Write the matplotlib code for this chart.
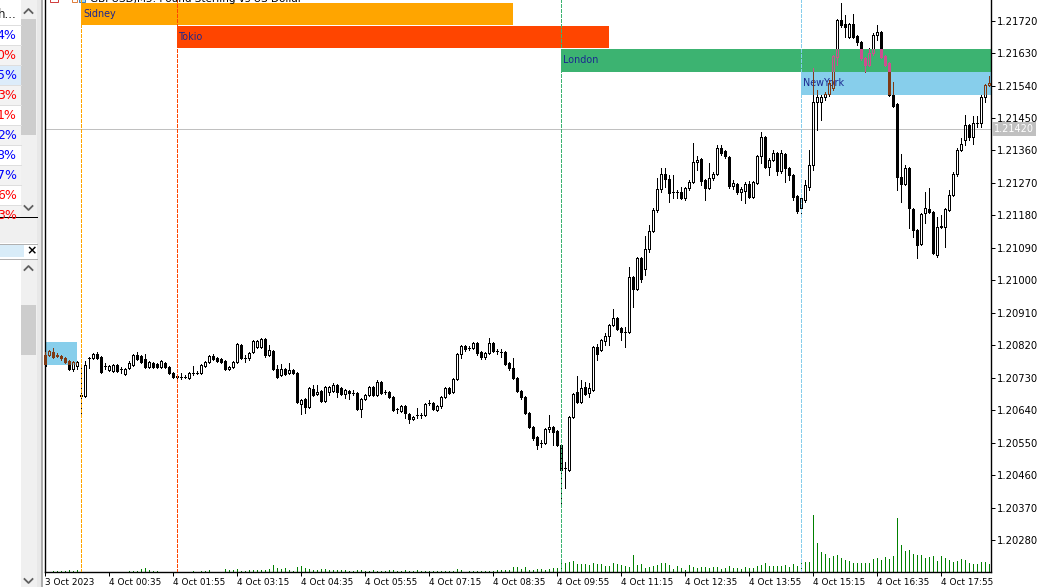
import numpy as np
import pandas as pd
import matplotlib
matplotlib.use('Agg')
import matplotlib.pyplot as plt
from matplotlib.collections import LineCollection, PolyCollection
from matplotlib.patches import Rectangle

# GBPUSD M5, 3 Oct 2023 23:15 .. 4 Oct 2023 18:55 (prices)
open_ = [
    1.20793, 1.20793, 1.20801, 1.20793, 1.20790, 1.20785, 1.20777, 1.20755, 1.20763, 1.20683,
    1.20680, 1.20785, 1.20785, 1.20796, 1.20788, 1.20763, 1.20752, 1.20749, 1.20766, 1.20755,
    1.20741, 1.20758, 1.20766, 1.20793, 1.20790, 1.20782, 1.20760, 1.20771, 1.20769, 1.20760,
    1.20771, 1.20760, 1.20744, 1.20735, 1.20733, 1.20733, 1.20730, 1.20744, 1.20744, 1.20744,
    1.20763, 1.20774, 1.20790, 1.20785, 1.20782, 1.20777, 1.20755, 1.20760, 1.20774, 1.20821,
    1.20785, 1.20785, 1.20801, 1.20816, 1.20816, 1.20838, 1.20793, 1.20804, 1.20755, 1.20738,
    1.20755, 1.20744, 1.20752, 1.20744, 1.20658, 1.20672, 1.20649, 1.20699, 1.20686, 1.20694,
    1.20666, 1.20691, 1.20694, 1.20710, 1.20702, 1.20686, 1.20694, 1.20688, 1.20688, 1.20644,
    1.20672, 1.20683, 1.20705, 1.20683, 1.20718, 1.20691, 1.20691, 1.20677, 1.20644, 1.20638,
    1.20652, 1.20630, 1.20616, 1.20627, 1.20627, 1.20627, 1.20661, 1.20661, 1.20641, 1.20652,
    1.20677, 1.20702, 1.20691, 1.20727, 1.20796, 1.20818, 1.20813, 1.20813, 1.20827, 1.20801,
    1.20788, 1.20799, 1.20827, 1.20804, 1.20801, 1.20801, 1.20771, 1.20758, 1.20730, 1.20694,
    1.20677, 1.20633, 1.20594, 1.20566, 1.20550, 1.20550, 1.20588, 1.20594, 1.20583, 1.20544,
    1.20480, 1.20475, 1.20622, 1.20691, 1.20663, 1.20705, 1.20688, 1.20697, 1.20816, 1.20807,
    1.20832, 1.20846, 1.20876, 1.20896, 1.20868, 1.20857, 1.20857, 1.21010, 1.20976, 1.21062,
    1.21032, 1.21087, 1.21137, 1.21195, 1.21253, 1.21295, 1.21281, 1.21245, 1.21245, 1.21245,
    1.21229, 1.21256, 1.21272, 1.21328, 1.21337, 1.21278, 1.21256, 1.21284, 1.21295, 1.21367,
    1.21359, 1.21342, 1.21261, 1.21267, 1.21245, 1.21248, 1.21267, 1.21231, 1.21270, 1.21345,
    1.21397, 1.21314, 1.21334, 1.21353, 1.21303, 1.21350, 1.21312, 1.21292, 1.21234, 1.21201,
    1.21223, 1.21259, 1.21320, 1.21494, 1.21494, 1.21508, 1.21517, 1.21533, 1.21619, 1.21721,
    1.21710, 1.21675, 1.21710, 1.21677, 1.21661, 1.21616, 1.21597, 1.21630, 1.21680, 1.21688,
    1.21622, 1.21602, 1.21514, 1.21489, 1.21287, 1.21267, 1.21312, 1.21198, 1.21140, 1.21101,
    1.21187, 1.21198, 1.21189, 1.21070, 1.21148, 1.21148, 1.21195, 1.21237, 1.21295, 1.21361,
    1.21389, 1.21431, 1.21397, 1.21436, 1.21436, 1.21508, 1.21542,
]
high = [
    1.20801, 1.20807, 1.20813, 1.20799, 1.20793, 1.20788, 1.20780, 1.20777, 1.20777, 1.20758,
    1.20777, 1.20788, 1.20799, 1.20801, 1.20790, 1.20771, 1.20766, 1.20769, 1.20769, 1.20760,
    1.20758, 1.20777, 1.20796, 1.20801, 1.20793, 1.20796, 1.20777, 1.20774, 1.20771, 1.20780,
    1.20774, 1.20763, 1.20746, 1.20741, 1.20744, 1.20738, 1.20746, 1.20763, 1.20749, 1.20769,
    1.20777, 1.20793, 1.20796, 1.20788, 1.20785, 1.20780, 1.20763, 1.20777, 1.20827, 1.20824,
    1.20793, 1.20801, 1.20835, 1.20835, 1.20841, 1.20841, 1.20821, 1.20807, 1.20766, 1.20769,
    1.20758, 1.20771, 1.20755, 1.20746, 1.20672, 1.20675, 1.20705, 1.20710, 1.20710, 1.20697,
    1.20707, 1.20707, 1.20716, 1.20713, 1.20705, 1.20699, 1.20697, 1.20697, 1.20691, 1.20675,
    1.20686, 1.20707, 1.20707, 1.20724, 1.20721, 1.20697, 1.20694, 1.20680, 1.20647, 1.20655,
    1.20655, 1.20633, 1.20624, 1.20647, 1.20633, 1.20661, 1.20669, 1.20663, 1.20655, 1.20680,
    1.20705, 1.20705, 1.20730, 1.20799, 1.20821, 1.20821, 1.20818, 1.20829, 1.20829, 1.20804,
    1.20801, 1.20841, 1.20829, 1.20810, 1.20810, 1.20804, 1.20774, 1.20785, 1.20733, 1.20697,
    1.20680, 1.20635, 1.20597, 1.20569, 1.20558, 1.20591, 1.20627, 1.20597, 1.20586, 1.20547,
    1.20497, 1.20624, 1.20688, 1.20735, 1.20724, 1.20718, 1.20716, 1.20818, 1.20824, 1.20838,
    1.20855, 1.20879, 1.20921, 1.20899, 1.20871, 1.20871, 1.21037, 1.21012, 1.21065, 1.21065,
    1.21123, 1.21153, 1.21201, 1.21284, 1.21312, 1.21312, 1.21292, 1.21292, 1.21251, 1.21259,
    1.21259, 1.21278, 1.21381, 1.21345, 1.21339, 1.21281, 1.21325, 1.21300, 1.21375, 1.21375,
    1.21361, 1.21345, 1.21278, 1.21270, 1.21259, 1.21272, 1.21275, 1.21275, 1.21348, 1.21411,
    1.21400, 1.21339, 1.21361, 1.21356, 1.21361, 1.21353, 1.21314, 1.21295, 1.21237, 1.21237,
    1.21278, 1.21361, 1.21589, 1.21528, 1.21514, 1.21522, 1.21555, 1.21625, 1.21724, 1.21769,
    1.21735, 1.21713, 1.21738, 1.21680, 1.21663, 1.21619, 1.21644, 1.21686, 1.21708, 1.21691,
    1.21625, 1.21605, 1.21550, 1.21492, 1.21350, 1.21320, 1.21314, 1.21201, 1.21142, 1.21187,
    1.21245, 1.21256, 1.21192, 1.21176, 1.21181, 1.21201, 1.21251, 1.21300, 1.21367, 1.21395,
    1.21458, 1.21433, 1.21456, 1.21456, 1.21514, 1.21544, 1.21566,
]
low = [
    1.20758, 1.20790, 1.20785, 1.20788, 1.20780, 1.20771, 1.20752, 1.20749, 1.20755, 1.20627,
    1.20677, 1.20758, 1.20782, 1.20782, 1.20744, 1.20755, 1.20749, 1.20746, 1.20746, 1.20744,
    1.20738, 1.20755, 1.20763, 1.20780, 1.20771, 1.20758, 1.20758, 1.20758, 1.20758, 1.20758,
    1.20758, 1.20741, 1.20730, 1.20730, 1.20727, 1.20730, 1.20727, 1.20738, 1.20741, 1.20741,
    1.20760, 1.20771, 1.20780, 1.20774, 1.20771, 1.20752, 1.20752, 1.20758, 1.20771, 1.20782,
    1.20774, 1.20780, 1.20799, 1.20813, 1.20813, 1.20788, 1.20790, 1.20752, 1.20730, 1.20735,
    1.20738, 1.20741, 1.20741, 1.20661, 1.20630, 1.20633, 1.20647, 1.20680, 1.20683, 1.20663,
    1.20663, 1.20683, 1.20691, 1.20677, 1.20683, 1.20675, 1.20672, 1.20683, 1.20641, 1.20622,
    1.20669, 1.20680, 1.20680, 1.20680, 1.20686, 1.20686, 1.20675, 1.20638, 1.20633, 1.20635,
    1.20619, 1.20605, 1.20613, 1.20619, 1.20619, 1.20624, 1.20655, 1.20641, 1.20638, 1.20647,
    1.20675, 1.20686, 1.20688, 1.20724, 1.20785, 1.20804, 1.20807, 1.20810, 1.20793, 1.20782,
    1.20782, 1.20796, 1.20801, 1.20796, 1.20788, 1.20766, 1.20752, 1.20727, 1.20691, 1.20672,
    1.20630, 1.20591, 1.20558, 1.20533, 1.20538, 1.20547, 1.20580, 1.20544, 1.20541, 1.20383,
    1.20425, 1.20472, 1.20619, 1.20661, 1.20661, 1.20683, 1.20677, 1.20694, 1.20780, 1.20804,
    1.20821, 1.20821, 1.20874, 1.20863, 1.20835, 1.20816, 1.20855, 1.20927, 1.20974, 1.20996,
    1.21015, 1.21079, 1.21134, 1.21189, 1.21245, 1.21259, 1.21217, 1.21229, 1.21229, 1.21226,
    1.21223, 1.21251, 1.21270, 1.21306, 1.21264, 1.21223, 1.21253, 1.21278, 1.21292, 1.21348,
    1.21339, 1.21256, 1.21253, 1.21240, 1.21223, 1.21215, 1.21229, 1.21229, 1.21267, 1.21325,
    1.21312, 1.21292, 1.21331, 1.21292, 1.21298, 1.21272, 1.21278, 1.21223, 1.21187, 1.21181,
    1.21217, 1.21251, 1.21306, 1.21417, 1.21444, 1.21500, 1.21511, 1.21528, 1.21597, 1.21702,
    1.21675, 1.21672, 1.21672, 1.21652, 1.21611, 1.21578, 1.21594, 1.21625, 1.21666, 1.21616,
    1.21594, 1.21511, 1.21481, 1.21251, 1.21217, 1.21264, 1.21145, 1.21120, 1.21062, 1.21098,
    1.21159, 1.21187, 1.21073, 1.21065, 1.21145, 1.21093, 1.21192, 1.21234, 1.21289, 1.21359,
    1.21375, 1.21389, 1.21378, 1.21425, 1.21425, 1.21494, 1.21539,
]
close = [
    1.20763, 1.20804, 1.20788, 1.20790, 1.20785, 1.20774, 1.20755, 1.20774, 1.20774, 1.20680,
    1.20766, 1.20785, 1.20796, 1.20785, 1.20746, 1.20763, 1.20763, 1.20766, 1.20749, 1.20755,
    1.20755, 1.20771, 1.20793, 1.20782, 1.20774, 1.20760, 1.20774, 1.20760, 1.20760, 1.20777,
    1.20760, 1.20744, 1.20733, 1.20733, 1.20733, 1.20733, 1.20744, 1.20744, 1.20744, 1.20766,
    1.20774, 1.20790, 1.20782, 1.20777, 1.20774, 1.20755, 1.20760, 1.20774, 1.20824, 1.20785,
    1.20785, 1.20799, 1.20832, 1.20832, 1.20838, 1.20793, 1.20807, 1.20755, 1.20733, 1.20755,
    1.20741, 1.20752, 1.20744, 1.20663, 1.20669, 1.20649, 1.20702, 1.20683, 1.20691, 1.20666,
    1.20705, 1.20705, 1.20710, 1.20691, 1.20686, 1.20697, 1.20688, 1.20688, 1.20644, 1.20672,
    1.20683, 1.20705, 1.20683, 1.20718, 1.20688, 1.20691, 1.20677, 1.20641, 1.20644, 1.20652,
    1.20633, 1.20616, 1.20622, 1.20627, 1.20627, 1.20658, 1.20661, 1.20644, 1.20652, 1.20677,
    1.20702, 1.20688, 1.20727, 1.20796, 1.20818, 1.20810, 1.20813, 1.20827, 1.20799, 1.20788,
    1.20799, 1.20827, 1.20804, 1.20804, 1.20801, 1.20769, 1.20758, 1.20730, 1.20694, 1.20677,
    1.20633, 1.20594, 1.20564, 1.20544, 1.20550, 1.20588, 1.20594, 1.20580, 1.20544, 1.20475,
    1.20480, 1.20622, 1.20686, 1.20663, 1.20702, 1.20686, 1.20702, 1.20816, 1.20796, 1.20835,
    1.20846, 1.20876, 1.20896, 1.20865, 1.20857, 1.20857, 1.21010, 1.20976, 1.21062, 1.21004,
    1.21087, 1.21137, 1.21195, 1.21253, 1.21295, 1.21281, 1.21242, 1.21245, 1.21245, 1.21229,
    1.21256, 1.21272, 1.21328, 1.21334, 1.21275, 1.21256, 1.21284, 1.21295, 1.21367, 1.21353,
    1.21345, 1.21261, 1.21270, 1.21245, 1.21253, 1.21267, 1.21231, 1.21272, 1.21345, 1.21397,
    1.21314, 1.21334, 1.21353, 1.21303, 1.21353, 1.21312, 1.21292, 1.21231, 1.21192, 1.21229,
    1.21264, 1.21320, 1.21494, 1.21508, 1.21508, 1.21517, 1.21547, 1.21622, 1.21721, 1.21708,
    1.21702, 1.21710, 1.21675, 1.21661, 1.21616, 1.21597, 1.21630, 1.21680, 1.21688, 1.21619,
    1.21597, 1.21514, 1.21483, 1.21287, 1.21267, 1.21312, 1.21201, 1.21140, 1.21098, 1.21184,
    1.21201, 1.21189, 1.21076, 1.21148, 1.21150, 1.21198, 1.21237, 1.21295, 1.21361, 1.21378,
    1.21431, 1.21397, 1.21436, 1.21436, 1.21508, 1.21542, 1.21547,
]
# tick volume
volume = [
    3, 3, 10, 10, 10, 10, 20, 10, 23, 3,
    3, 3, 3, 3, 3, 3, 3, 3, 3, 3,
    3, 10, 10, 15, 27, 40, 20, 10, 10, 3,
    3, 3, 3, 3, 3, 3, 3, 10, 3, 10,
    15, 20, 3, 3, 3, 30, 20, 20, 30, 15,
    10, 20, 20, 20, 20, 20, 30, 70, 40, 35,
    40, 20, 10, 50, 65, 40, 30, 20, 20, 30,
    30, 20, 20, 20, 20, 20, 15, 15, 20, 20,
    15, 10, 20, 10, 10, 10, 20, 20, 15, 10,
    20, 15, 10, 20, 10, 10, 10, 10, 10, 10,
    10, 10, 10, 30, 20, 5, 10, 10, 10, 10,
    10, 10, 10, 20, 20, 20, 20, 50, 50, 30,
    50, 20, 20, 30, 30, 25, 30, 40, 40, 100,
    90, 100, 110, 80, 80, 80, 70, 90, 80, 80,
    60, 60, 90, 80, 70, 60, 50, 170, 70, 80,
    40, 50, 60, 70, 90, 90, 70, 30, 60, 40,
    20, 70, 50, 40, 50, 50, 40, 50, 50, 30,
    40, 60, 40, 40, 30, 50, 40, 40, 60, 70,
    90, 60, 60, 60, 60, 70, 50, 80, 60, 100,
    100, 100, 570, 290, 200, 180, 140, 160, 170, 140,
    120, 110, 90, 90, 90, 90, 90, 130, 140, 120,
    150, 130, 160, 540, 270, 210, 220, 180, 170, 170,
    140, 150, 160, 110, 160, 140, 120, 100, 110, 130,
    120, 90, 80, 80, 100, 100, 80,
]

first_bar = pd.Timestamp('2023-10-03 23:15')
bar_minutes = 5

# trading sessions drawn by the indicator
session_names = ['Sidney', 'Tokio', 'London', 'NewYork']
session_start = ['2023-10-04 00:00', '2023-10-04 02:00', '2023-10-04 10:00', '2023-10-04 15:00']
session_end = ['2023-10-04 09:00', '2023-10-04 11:00', None, None]
session_top = [1.21769, 1.21705, 1.21641, 1.21578]
session_bottom = [1.21708, 1.21643, 1.21578, 1.21514]
session_colors = ['#FFA500', '#FF4500', '#3CB371', '#87CEEB']
# previous day's New York box, still visible at the left edge
prev_ny_end = '2023-10-03 23:55'
prev_ny_top, prev_ny_bottom = 1.20829, 1.20767

current_price = 1.21420
y_ticks = [1.20280, 1.20370, 1.20460, 1.20550, 1.20640, 1.20730, 1.20820, 1.20910,
           1.21000, 1.21090, 1.21180, 1.21270, 1.21360, 1.21450, 1.21540, 1.21630, 1.21720]

# recoloured candle parts where they cross a session box
overlay_colors = {'London': '#cf4f8f', 'NewYork': '#7f3a14'}

n = len(close)
o = np.array(open_); h = np.array(high); l = np.array(low); c = np.array(close)
idx = np.arange(n)


def bar_index(ts):
    return (pd.Timestamp(ts) - first_bar) / pd.Timedelta(minutes=bar_minutes)


PX = 0.72  # one pixel in points at 100 dpi

fig = plt.figure(figsize=(10.45, 5.87), dpi=100)

# ---- terminal frame around the chart (pixel coordinates) ----
ui = fig.add_axes([0, 0, 1, 1], zorder=0)
ui.set_xlim(0, 1045)
ui.set_ylim(587, 0)
ui.axis('off')
ui.add_patch(Rectangle((0, 0), 1045, 587, fc='white', ec='none'))

# market watch remains on the left
rows = ['4%', '0%', '5%', '3%', '1%', '2%', '8%', '7%', '6%', '3%']
row_colors = ['#0000ff', '#ff0000', '#0000ff', '#ff0000', '#ff0000',
              '#0000ff', '#0000ff', '#0000ff', '#ff0000', '#ff0000']
ui.text(16.5, 15, 'h...', ha='right', va='center', fontsize=8.5, color='#202020')
for k, (txt, col) in enumerate(zip(rows, row_colors)):
    y0 = 25 + 20 * k
    bg = '#dcecfa' if k == 2 else ('#f3f3f3' if k % 2 else 'white')
    ui.add_patch(Rectangle((0, y0), 20.5, 20, fc=bg, ec='none'))
    ui.plot([0, 20.5], [y0, y0], color='#dedede', lw=PX)
    ui.text(16.5, y0 + 10.5, txt, ha='right', va='center', fontsize=9, color=col)
ui.add_patch(Rectangle((20.5, 0), 16, 217, fc='#f0f0f0', ec='none'))
ui.add_patch(Rectangle((21, 19), 15, 116, fc='#cdcdcd', ec='none'))
ui.plot([24.5, 28.5, 32.5], [13, 9, 13], color='#606060', lw=1.3)
ui.plot([24.5, 28.5, 32.5], [206, 210, 206], color='#606060', lw=1.3)
ui.plot([0, 37], [217, 217], color='black', lw=PX)
ui.add_patch(Rectangle((0, 218), 37, 25, fc='#f0f0f0', ec='none'))
ui.plot([0, 37], [243.5, 243.5], color='#b0b0b0', lw=PX)
ui.add_patch(Rectangle((0, 245), 24, 12, fc='#d8ecf8', ec='none'))
ui.text(32, 251, '×', ha='center', va='center', fontsize=9, color='black', weight='bold')
ui.plot([0, 37], [259, 259], color='#b0b0b0', lw=PX)
ui.add_patch(Rectangle((20.5, 260), 16, 327, fc='#f0f0f0', ec='none'))
ui.add_patch(Rectangle((21, 305), 15, 50, fc='#cdcdcd', ec='none'))
ui.plot([24.5, 28.5, 32.5], [270, 266, 270], color='#606060', lw=1.3)
ui.plot([24.5, 28.5, 32.5], [579, 583, 579], color='#606060', lw=1.3)
ui.add_patch(Rectangle((37, 0), 5, 587, fc='#e8e8e8', ec='none'))
ui.plot([41.8, 41.8], [0, 587], color='#a0a0a0', lw=1.2)

# chart title (mostly above the visible area)
ui.add_patch(Rectangle((50, -4), 8, 6, fc='white', ec='#d04040', lw=PX))
ui.add_patch(Rectangle((72, -4), 5, 6, fc='white', ec='#e08040', lw=PX))
ui.add_patch(Rectangle((79, -4), 6, 6, fc='#a8d8f0', ec='#4080c0', lw=PX))
fig.text(90 / 1045, 1 - 2.2 / 587, 'GBPUSD,M5: Pound Sterling vs US Dollar',
         fontsize=7.5, va='baseline', color='black', zorder=10)

# ---- price chart ----
ax = fig.add_axes([45 / 1045, 15 / 587, 945.5 / 1045, 572 / 587], zorder=2)
ax.patch.set_alpha(0)
ax.set_xlim(-0.075, 236.3)
ax.set_ylim(1.2019217, 1.2177692)

# volumes on their own scale at the bottom
axv = ax.twinx()
axv.set_zorder(1)
axv.patch.set_alpha(0)
axv.set_ylim(0, 5720)
axv.vlines(idx, 0, volume, color='#008000', lw=PX, antialiased=False)
axv.axis('off')
ax.set_zorder(2)

# session boxes
boxes = []
for name, s, e, top, bot, col in zip(session_names, session_start, session_end,
                                     session_top, session_bottom, session_colors):
    x0 = bar_index(s)
    x1 = bar_index(e) if e else n + 5
    ax.add_patch(Rectangle((x0, bot), x1 - x0, top - bot, fc=col, ec='none', zorder=1))
    ax.text(x0 + 0.5, (top + bot) / 2, name, fontsize=6.9, color='#1c2890',
            va='center', ha='left', zorder=2)
    ax.axvline(x0, color=col, lw=PX, ls=(0, (3, 2)), zorder=5, antialiased=False)
    boxes.append((name, x0, x1, bot, top))
x1 = bar_index(prev_ny_end)
ax.add_patch(Rectangle((-5, prev_ny_bottom), x1 + 5, prev_ny_top - prev_ny_bottom,
                       fc='#87CEEB', ec='none', zorder=1))
boxes.append(('NewYork', -5, x1, prev_ny_bottom, prev_ny_top))


def draw_candles(color, clip=None):
    top = np.maximum(o, c)
    bot = np.minimum(o, c)
    segs = [[(i, h[i]), (i, top[i])] for i in idx] + [[(i, bot[i]), (i, l[i])] for i in idx]
    wicks = LineCollection(segs, colors=color, linewidths=PX, antialiaseds=False, zorder=3)
    w = 0.25
    verts = [[(i - w, bot[i]), (i + w, bot[i]), (i + w, top[i]), (i - w, top[i])] for i in idx]
    faces = [color if c[i] < o[i] else 'none' for i in idx]
    bodies = PolyCollection(verts, facecolors=faces, edgecolors=color, linewidths=PX,
                            antialiaseds=False, zorder=3)
    for art in (wicks, bodies):
        ax.add_collection(art)
        if clip is not None:
            art.set_clip_path(clip)


draw_candles('black')
for name, x0, x1, bot, top in boxes:
    if name in overlay_colors:
        clip = Rectangle((x0, bot), x1 - x0, top - bot, transform=ax.transData)
        draw_candles(overlay_colors[name], clip)

# last price line
ax.axhline(current_price, color='#c0c0c0', lw=PX, zorder=2, antialiased=False)
ax.text(1.0035, current_price, f'{current_price:.5f}', transform=ax.get_yaxis_transform(),
        ha='left', va='center', fontsize=7, color='white', clip_on=False,
        bbox=dict(boxstyle='square,pad=0.18', fc='#c0c0c0', ec='none'))

# axes
ax.spines['top'].set_visible(False)
for side in ['left', 'right', 'bottom']:
    ax.spines[side].set_linewidth(1.0)
    ax.spines[side].set_color('black')
ax.yaxis.tick_right()
ax.set_yticks(y_ticks)
ax.set_yticklabels([f'{v:.5f}' for v in y_ticks])
ax.tick_params(axis='y', direction='out', length=3, width=PX, pad=1.5, labelsize=7.2)

tick_idx = list(range(0, n, 16))
times = [first_bar + pd.Timedelta(minutes=bar_minutes * i) for i in tick_idx]
labels = ['3 Oct 2023'] + [f'{t.day} {t:%b} {t:%H:%M}' for t in times[1:]]
ax.set_xticks(tick_idx)
ax.set_xticklabels(labels, ha='left')
ax.tick_params(axis='x', direction='out', length=3, width=PX, pad=1.5, labelsize=6.4)

fig.savefig('out.png', dpi=100)
